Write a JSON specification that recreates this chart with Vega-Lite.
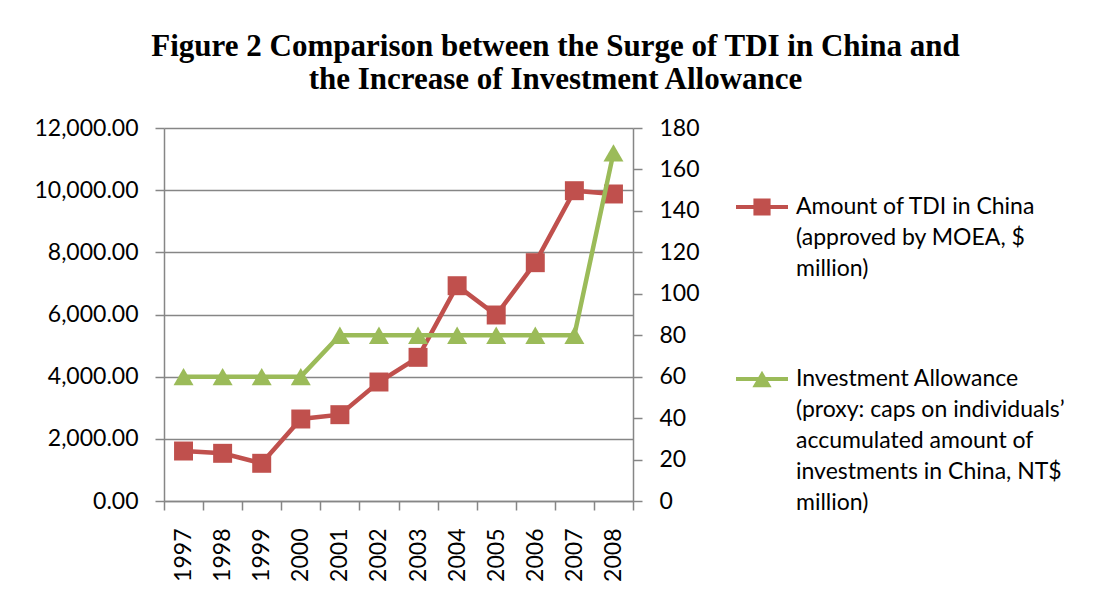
{
  "$schema": "https://vega.github.io/schema/vega-lite/v6.json",
  "width": 469,
  "height": 373,
  "autosize": {"type": "none"},
  "padding": {"left": 164, "top": 128, "right": 467, "bottom": 105},
  "background": "white",
  "title": {
    "text": ["Figure 2  Comparison between the Surge of TDI in China and", "the Increase of Investment Allowance"],
    "font": "Liberation Serif",
    "fontSize": 31,
    "fontWeight": "bold",
    "lineHeight": 33,
    "anchor": "middle",
    "frame": "group",
    "dx": 157,
    "offset": 21,
    "color": "black"
  },
  "config": {
    "view": {"stroke": null},
    "style": {"guide-label": {"lineHeight": 31}},
    "axis": {
      "domainColor": "#868686",
      "domainWidth": 1.5,
      "tickColor": "#868686",
      "tickWidth": 1.5,
      "tickSize": 9,
      "gridColor": "#868686",
      "gridWidth": 1.4,
      "labelFont": "Lato",
      "labelFontSize": 23,
      "labelColor": "black",
      "labelPadding": 17,
      "title": null
    }
  },
  "datasets": {
    "main": [
      {"year": 1997, "tdi": 1608, "allowance": 60},
      {"year": 1998, "tdi": 1534, "allowance": 60},
      {"year": 1999, "tdi": 1213, "allowance": 60},
      {"year": 2000, "tdi": 2638, "allowance": 60},
      {"year": 2001, "tdi": 2777, "allowance": 80},
      {"year": 2002, "tdi": 3828, "allowance": 80},
      {"year": 2003, "tdi": 4622, "allowance": 80},
      {"year": 2004, "tdi": 6926, "allowance": 80},
      {"year": 2005, "tdi": 5984, "allowance": 80},
      {"year": 2006, "tdi": 7667, "allowance": 80},
      {"year": 2007, "tdi": 9983, "allowance": 80},
      {"year": 2008, "tdi": 9877, "allowance": 168}
    ]
  },
  "layer": [
    {
      "data": {"name": "main"},
      "encoding": {
        "x": {
          "field": "year", "type": "ordinal", "bandPosition": 0.5,
          "scale": {"type": "band", "paddingInner": 0, "paddingOuter": 0},
          "axis": {"labelAngle": -90, "tickBand": "extent", "labelPadding": 18, "grid": false}
        },
        "y": {
          "field": "tdi", "type": "quantitative",
          "scale": {"domain": [0, 12000]},
          "axis": {"orient": "left", "values": [0, 2000, 4000, 6000, 8000, 10000, 12000], "format": ",.2f", "grid": true}
        }
      },
      "layer": [
        {"mark": {"type": "line", "color": "#C0504D", "strokeWidth": 4.5}},
        {"mark": {"type": "point", "shape": "square", "filled": true, "size": 360, "color": "#C0504D", "opacity": 1}}
      ]
    },
    {
      "data": {"name": "main"},
      "encoding": {
        "x": {
          "field": "year", "type": "ordinal", "bandPosition": 0.5,
          "scale": {"type": "band", "paddingInner": 0, "paddingOuter": 0}
        },
        "y": {
          "field": "allowance", "type": "quantitative",
          "scale": {"domain": [0, 180]},
          "axis": {"orient": "right", "values": [0, 20, 40, 60, 80, 100, 120, 140, 160, 180], "format": "d", "grid": false}
        }
      },
      "layer": [
        {"mark": {"type": "line", "color": "#9BBB59", "strokeWidth": 4.5}},
        {"mark": {"type": "point", "shape": "triangle-up", "filled": true, "size": 400, "color": "#9BBB59", "opacity": 1}}
      ]
    },
    {
      "data": {"values": []},
      "mark": {"type": "point", "filled": true, "opacity": 1},
      "encoding": {
        "color": {
          "field": "series", "type": "nominal",
          "scale": {
            "domain": ["Amount of TDI in China|(approved by MOEA, $|million)", "Investment Allowance|(proxy: caps on individuals’|accumulated amount of|investments in China, NT$|million)"],
            "range": ["#C0504D", "#9BBB59"]
          },
          "legend": {
            "title": null,
            "orient": "none",
            "legendX": 572,
            "legendY": 53,
            "padding": 0,
            "symbolSize": 2704,
            "symbolStrokeWidth": 0,
            "labelOffset": 8,
            "labelFont": "Lato",
            "labelFontSize": 23,
            "labelColor": "black",
            "labelLimit": 500,
            "labelBaseline": "middle",
            "labelExpr": "split(datum.label, '|')",
            "rowPadding": 72
          }
        },
        "shape": {
          "field": "series", "type": "nominal",
          "scale": {
            "domain": ["Amount of TDI in China|(approved by MOEA, $|million)", "Investment Allowance|(proxy: caps on individuals’|accumulated amount of|investments in China, NT$|million)"],
            "range": ["M-1,-0.08H1V0.08H-1Z M-0.33,-0.33H0.33V0.33H-0.33Z", "M-1,-0.08H1V0.08H-1Z M0,-0.32L0.37,0.32H-0.37Z"]
          }
        }
      }
    }
  ],
  "resolve": {"scale": {"y": "independent"}}
}
